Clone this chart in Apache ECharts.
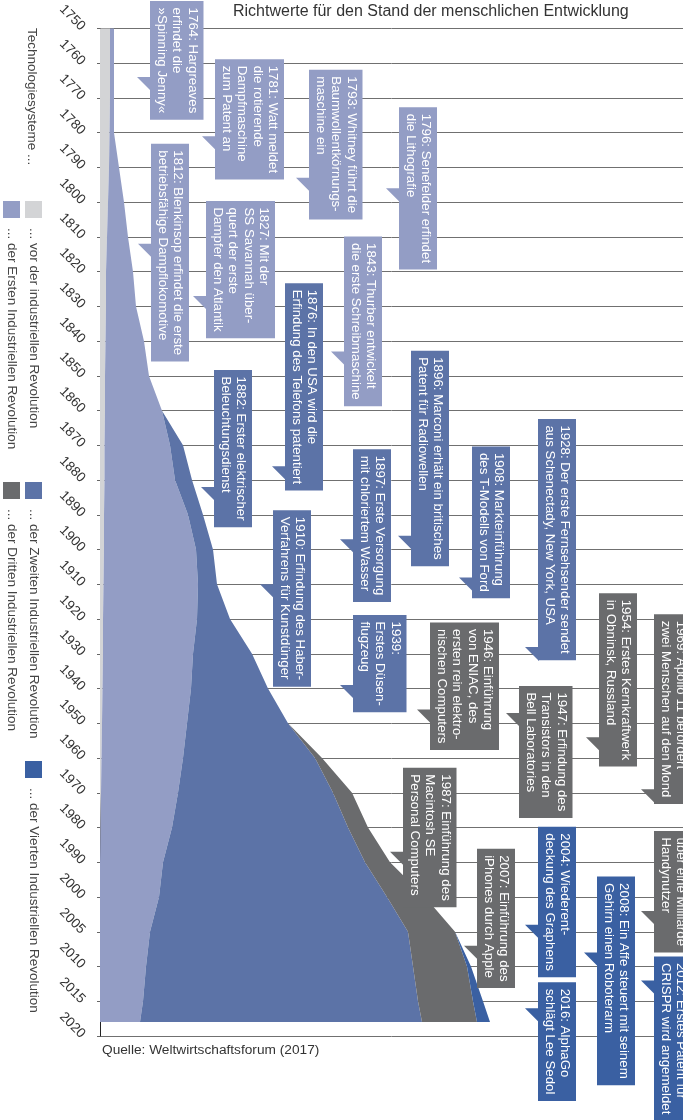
<!DOCTYPE html>
<html><head><meta charset="utf-8">
<script src="https://cdn.jsdelivr.net/npm/echarts@6/dist/echarts.min.js"></script>
<style>html,body{margin:0;padding:0;background:#fff}#c{width:683px;height:1120px}</style>
</head><body><div id="c"></div>
<script>
// ---------- DATA ----------
const tickYears = [1750,1760,1770,1780,1790,1800,1810,1820,1830,1840,1850,1860,1870,1880,1890,1900,1910,1920,1930,1940,1950,1960,1970,1980,1990,2000,2005,2010,2015,2020];
const tickLabels = tickYears.map(String);

const dataYears = [1750,1760,1770,1780,1790,1800,1810,1820,1830,1840,1850,1860,1870,1880,1890,1900,1910,1920,1930,1940,1950,1960,1970,1980,1990,2000,2005,2010,2015,2018];
// indicative values (Richtwerte) per technology system
const preIndustrial = [10,10,10,9.5,9,8,7,6,6,5.5,5,5,4.5,4.5,4,4,3.5,3,3,2.5,2,1.5,1,0.5,0,0,0,0,0,0];
const firstIR  = [4,4,4,4.5,10,16,21,27,30,38.5,44,57,65.5,70.5,84,92,94.5,94,90,88.5,85,81.5,77,71.5,63,59,50,46,43,40];
const secondIR = [null,null,null,null,null,null,null,null,null,null,null,0,13,17,15,17,19,33,59,77,101,132,155,176,202,228,258,267,275,282];
const thirdIR  = [null,null,null,null,null,null,null,null,null,null,null,null,null,null,null,null,null,null,null,null,0,7,19,20,25,38,47,54,55,55];
const fourthIR = [null,null,null,null,null,null,null,null,null,null,null,null,null,null,null,null,null,null,null,null,null,null,null,null,null,null,0,4,10,13];

const seriesNames = ['... vor der industriellen Revolution','... der Ersten Industriellen Revolution','... der Zweiten Industriellen Revolution','... der Dritten Industriellen Revolution','... der Vierten Industriellen Revolution'];

const eventYears = [1764,1781,1793,1796,1812,1827,1843,1876,1882,1896,1897,1908,1910,1928,1939,1946,1947,1954,1969,1987,2002,2004,2007,2008,2012,2016];
const eventTexts = [
 '1764: Hargreaves\nerfindet die\n»Spinning Jenny«',
 '1781: Watt meldet\ndie rotierende\nDampfmaschine\nzum Patent an',
 '1793: Whitney führt die\nBaumwollentkörnungs-\nmaschine ein',
 '1796: Senefelder erfindet\ndie Lithografie',
 '1812: Blenkinsop erfindet die erste\nbetriebsfähige Dampflokomotive',
 '1827: Mit der\nSS Savannah über-\nquert der erste\nDampfer den Atlantik',
 '1843: Thurber entwickelt\ndie erste Schreibmaschine',
 '1876: In den USA wird die\nErfindung des Telefons patentiert',
 '1882: Erster elektrischer\nBeleuchtungsdienst',
 '1896: Marconi erhält ein britisches\nPatent für Radiowellen',
 '1897: Erste Versorgung\nmit chloriertem Wasser',
 '1908: Markteinführung\ndes T-Modells von Ford',
 '1910: Erfindung des Haber-\nVerfahrens für Kunstdünger',
 '1928: Der erste Fernsehsender sendet\naus Schenectady, New York, USA',
 '1939:\nErstes Düsen-\nflugzeug',
 '1946: Einführung\nvon ENIAC, des\nersten rein elektro-\nnischen Computers',
 '1947: Erfindung des\nTransistors in den\nBell Laboratories',
 '1954: Erstes Kernkraftwerk\nin Obninsk, Russland',
 '1969: Apollo 11 befördert\nzwei Menschen auf den Mond',
 '1987: Einführung des\nMacintosh SE\nPersonal Computers',
 '2002: Es gibt\nüber eine Milliarde\nHandynutzer',
 '2004: Wiederent-\ndeckung des Graphens',
 '2007: Einführung des\niPhones durch Apple',
 '2008: Ein Affe steuert mit seinem\nGehirn einen Roboterarm',
 '2012: Erstes Patent für\nCRISPR wird angemeldet',
 '2016: AlphaGo\nschlägt Lee Sedol'
];
const eventEra = [1,1,1,1,1,1,1,2,2,2,2,2,2,2,2,3,3,3,3,3,3,4,3,4,4,4];

// ---------- LAYOUT / STYLE ----------
const seriesColors = ['#d3d4d6','#939dc5','#5c73a7','#6a6b6d','#3a60a2'];
const calloutLeft = [50,115,209,299,51,106,244,185,114,311,253,372,173,438,253,330,419,499,554,303,554,438,377,497,554,438];
const calloutTop  = [76,77,108,81,100,95,115,183,117,185,90,131,74,228,70,87,27,144,175,84,80,98,97,76,24,26];
const legendPos = [[25,201],[3,201],[25,482],[3,482],[25,761]];
const FONT = '"Liberation Sans", Arial, sans-serif';
const FS = 13.3, LH = 15.5, PADX = 3.5, PADY = 6.5;

const mctx = document.createElement('canvas').getContext('2d');
function textWidth(s, size){ mctx.font = size + 'px ' + FONT; return mctx.measureText(s).width; }

// axis scale: uniform rows between consecutive tick years
function yearToRow(y){
  for (let i = 0; i < tickYears.length - 1; i++){
    if (y <= tickYears[i+1]) return i + (y - tickYears[i]) / (tickYears[i+1] - tickYears[i]);
  }
  return tickYears.length - 1;
}

const layers = [preIndustrial, firstIR, secondIR, thirdIR, fourthIR];
const cum = [];
layers.forEach((L, k) => { cum[k] = L.map((v, i) => (k ? cum[k-1][i] : 0) + (v == null ? 0 : v)); });

const areaSeries = layers.map((L, k) => ({
  type: 'custom', name: seriesNames[k], z: 2, silent: true,
  data: dataYears.map((y, i) => [cum[k][i], yearToRow(y)]),
  renderItem(params, api){
    if (params.dataIndex !== 0) return;
    const idx = dataYears.map((_, i) => i).filter(i => L[i] != null);
    const right = idx.map(i => api.coord([cum[k][i], yearToRow(dataYears[i])]));
    const left = idx.map(i => api.coord([k ? cum[k-1][i] : 0, yearToRow(dataYears[i])])).reverse();
    return { type: 'polygon', shape: { points: right.concat(left) }, style: { fill: seriesColors[k] } };
  }
}));

const calloutSeries = {
  type: 'custom', z: 5, silent: true, clip: false,
  data: eventYears.map((y, i) => [calloutLeft[i], yearToRow(y)]),
  renderItem(params, api){
    const i = params.dataIndex;
    const p = api.coord([api.value(0), api.value(1)]);
    const bx = p[0], ty = p[1];
    const lines = eventTexts[i].split('\n');
    const bw = lines.length * LH + 2 * PADX;
    const bh = Math.max.apply(null, lines.map(s => textWidth(s, FS))) + 2 * PADY;
    const by = ty - calloutTop[i];
    const col = seriesColors[eventEra[i]];
    return { type: 'group', children: [
      { type: 'polygon', shape: { points: [[bx - 13, ty], [bx + 1, ty], [bx + 1, ty + 14]] }, style: { fill: col } },
      { type: 'rect', shape: { x: bx, y: by, width: bw, height: bh }, style: { fill: col } },
      { type: 'text', x: bx + bw - PADX, y: by + PADY, rotation: -Math.PI / 2,
        style: { text: eventTexts[i], fill: '#fff', font: FS + 'px ' + FONT, lineHeight: LH,
                 align: 'left', verticalAlign: 'top', textAlign: 'left', textVerticalAlign: 'top' } }
    ]};
  }
};

// legend (rotated) built from series names / colours
const graphics = [
  { type: 'text', x: 32, y: 28, rotation: -Math.PI / 2,
    style: { text: 'Technologiesysteme ...', fill: '#444', font: '13.5px ' + FONT,
             align: 'left', verticalAlign: 'middle', textAlign: 'left', textVerticalAlign: 'middle' } },
  { type: 'text', x: 102, y: 1050,
    style: { text: 'Quelle: Weltwirtschaftsforum (2017)', fill: '#333', font: '13.7px ' + FONT,
             align: 'left', verticalAlign: 'middle', textAlign: 'left', textVerticalAlign: 'middle' } }
];
seriesNames.forEach((n, k) => {
  const [lx, ly] = legendPos[k];
  graphics.push({ type: 'rect', shape: { x: lx, y: ly, width: 17, height: 17 }, style: { fill: seriesColors[k] } });
  graphics.push({ type: 'text', x: lx + 8.5, y: ly + 27, rotation: -Math.PI / 2,
    style: { text: n, fill: '#444', font: '13.5px ' + FONT,
             align: 'left', verticalAlign: 'middle', textAlign: 'left', textVerticalAlign: 'middle' } });
});

const chart = echarts.init(document.getElementById('c'));
chart.setOption({
  animation: false,
  title: { text: 'Richtwerte für den Stand der menschlichen Entwicklung', left: 233, top: 4, padding: 0,
           textStyle: { fontSize: 16, fontWeight: 'normal', color: '#333', fontFamily: FONT } },
  grid: { left: 100, right: 0, top: 27, bottom: 84 },
  xAxis: { type: 'value', min: 0, max: 583, show: false },
  yAxis: { type: 'value', inverse: true, min: 0, max: tickYears.length - 1, interval: 1,
    axisLine: { show: true, lineStyle: { color: '#222', width: 1 } },
    axisTick: { show: true, length: 3, lineStyle: { color: '#666' } },
    splitLine: { show: true, lineStyle: { color: '#707070', width: 1 } },
    axisLabel: { formatter: v => tickLabels[Math.round(v)], rotate: -45, margin: 17,
                 fontSize: 13.6, color: '#333', fontFamily: FONT } },
  graphic: graphics,
  series: areaSeries.concat([calloutSeries])
});
</script></body></html>
